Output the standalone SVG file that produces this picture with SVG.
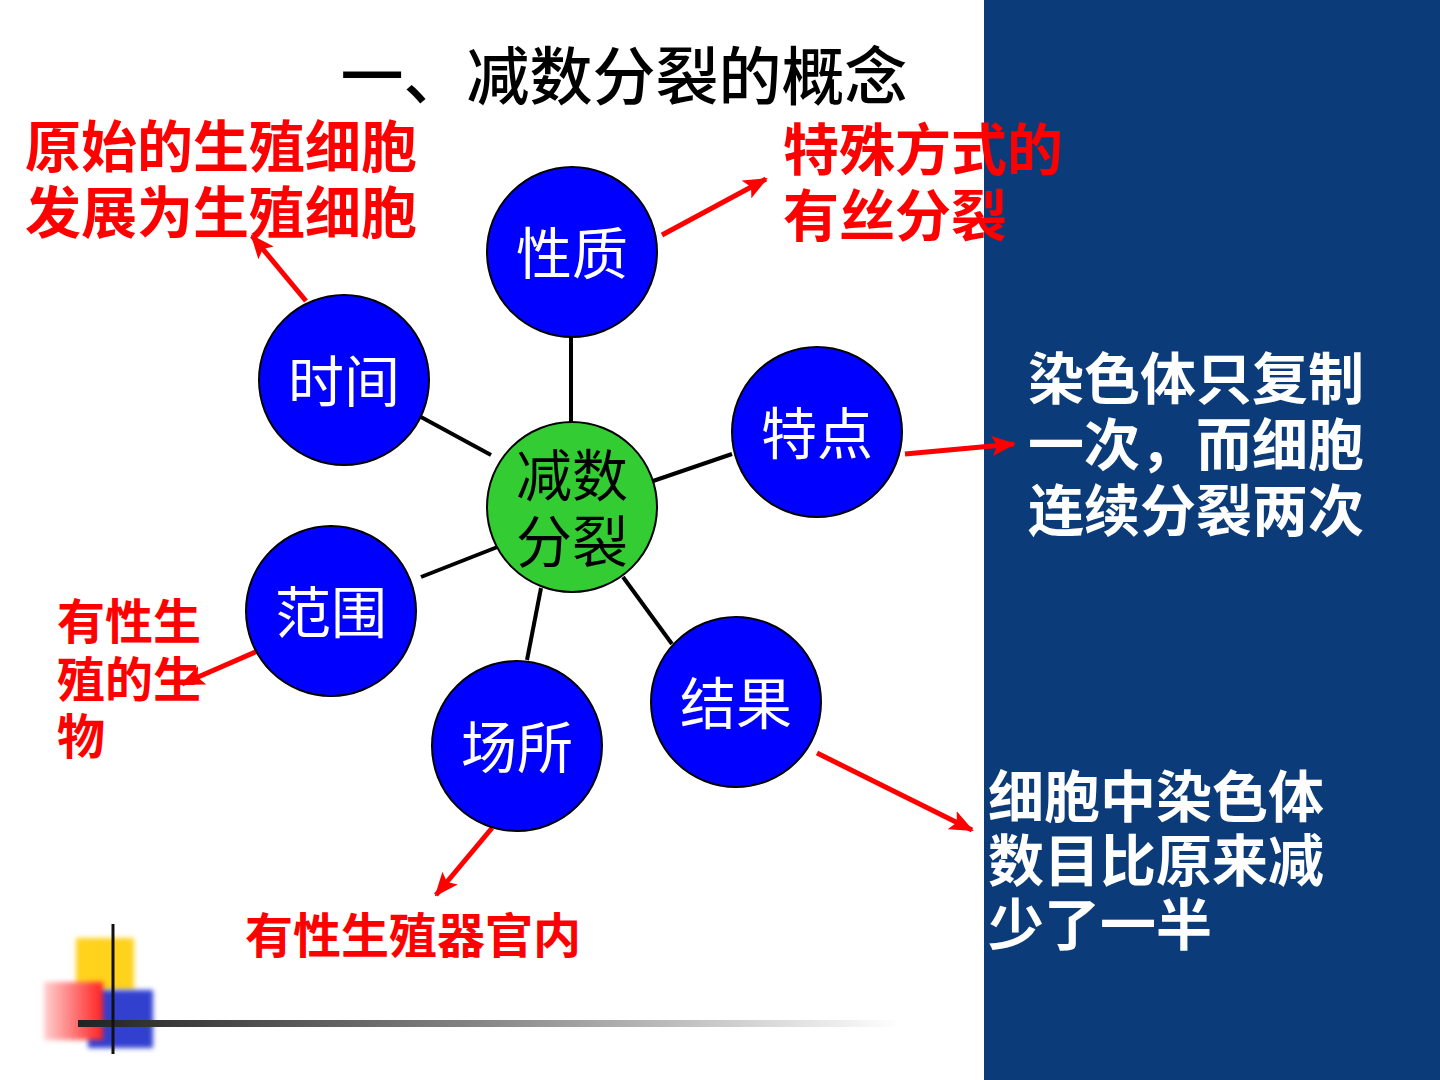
<svg xmlns="http://www.w3.org/2000/svg" width="1440" height="1080" viewBox="0 0 1440 1080">
<style>
.title{font-family:"Noto Sans CJK SC","Noto Sans CJK JP",sans-serif;font-size:63px;fill:#000;text-anchor:middle;font-weight:500}
.red{font-family:"Noto Sans CJK SC",sans-serif;font-weight:bold;fill:#ff0000}
.white{font-family:"Noto Sans CJK SC",sans-serif;font-weight:bold;fill:#ffffff;font-size:56px}
.nodeB{fill:#0000ff;stroke:#000;stroke-width:2}
.nodeG{fill:#33cc33;stroke:#000;stroke-width:2}
.nt{font-family:"Noto Sans CJK SC",sans-serif;font-size:56px;text-anchor:middle;fill:#fff}
.ct{font-family:"Noto Sans CJK SC",sans-serif;font-size:56px;text-anchor:middle;fill:#000}
.blk{stroke:#000;stroke-width:4;fill:none}
.arr{stroke:#ff0000;stroke-width:5;fill:none;marker-end:url(#ah)}
</style>
<defs>
<marker id="ah" markerUnits="userSpaceOnUse" markerWidth="24" markerHeight="22" viewBox="0 0 24 22" refX="22" refY="11" orient="auto">
<path d="M0,1 L24,11 L0,21 L5,11 Z" fill="#ff0000"/>
</marker>
<linearGradient id="hline" x1="0" y1="0" x2="1" y2="0">
<stop offset="0" stop-color="#222"/>
<stop offset="0.5" stop-color="#888"/>
<stop offset="1" stop-color="#fff"/>
</linearGradient>
<linearGradient id="redg" x1="0" y1="0" x2="1" y2="0">
<stop offset="0" stop-color="#ffd0d0"/>
<stop offset="1" stop-color="#ff2020"/>
</linearGradient>
<filter id="soft" x="-20%" y="-20%" width="140%" height="140%">
<feGaussianBlur stdDeviation="2.5"/>
</filter>
</defs>
<rect width="1440" height="1080" fill="#ffffff"/>
<rect x="984" y="0" width="456" height="1080" fill="#0b3b78"/>

<g id="decoration">
<rect x="76" y="938" width="58" height="52" fill="#ffd21a" filter="url(#soft)"/>
<rect x="88" y="990" width="65" height="58" fill="#3040d0" filter="url(#soft)"/>
<rect x="44" y="982" width="59" height="58" fill="url(#redg)" filter="url(#soft)"/>
<rect x="78" y="1020" width="822" height="7" fill="url(#hline)"/>
<line x1="113" y1="924" x2="113" y2="1054" stroke="#111" stroke-width="3"/>
</g>

<text id="title" class="title" x="624" y="99">一、减数分裂的概念</text>

<g id="connectors">
<line class="blk" x1="571" y1="337" x2="571" y2="422"/>
<line class="blk" x1="421" y1="417" x2="491" y2="455"/>
<line class="blk" x1="653" y1="481" x2="732" y2="454"/>
<line class="blk" x1="421" y1="577" x2="500" y2="546"/>
<line class="blk" x1="541" y1="588" x2="527" y2="660"/>
<line class="blk" x1="623" y1="577" x2="672" y2="644"/>
<line class="arr" x1="306" y1="301" x2="252" y2="236"/>
<line class="arr" x1="662" y1="235" x2="766" y2="179"/>
<line class="arr" x1="905" y1="454" x2="1014" y2="444"/>
<line class="arr" x1="260" y1="650" x2="182" y2="684"/>
<line class="arr" x1="492" y1="828" x2="436" y2="895"/>
<line class="arr" x1="817" y1="753" x2="972" y2="830"/>
</g>

<g id="node-xingzhi"><circle class="nodeB" cx="572" cy="252" r="85"/><text class="nt" x="572" y="274">性质</text></g>
<g id="node-shijian"><circle class="nodeB" cx="344" cy="380" r="85"/><text class="nt" x="344" y="402">时间</text></g>
<g id="node-tedian"><circle class="nodeB" cx="817" cy="432" r="85"/><text class="nt" x="817" y="454">特点</text></g>
<g id="node-center"><circle class="nodeG" cx="572" cy="507" r="85"/><text class="ct" x="572" y="496">减数<tspan x="572" dy="66">分裂</tspan></text></g>
<g id="node-fanwei"><circle class="nodeB" cx="331" cy="611" r="85"/><text class="nt" x="331" y="633">范围</text></g>
<g id="node-changsuo"><circle class="nodeB" cx="517" cy="746" r="85"/><text class="nt" x="517" y="768">场所</text></g>
<g id="node-jieguo"><circle class="nodeB" cx="736" cy="702" r="85"/><text class="nt" x="736" y="724">结果</text></g>

<g id="label-shijian">
<text class="red" font-size="56" x="25" y="167">原始的生殖细胞<tspan x="25" dy="66">发展为生殖细胞</tspan></text>
</g>
<g id="label-xingzhi">
<text class="red" font-size="56" x="783" y="170">特殊方式的<tspan x="783" dy="66">有丝分裂</tspan></text>
</g>
<g id="label-tedian">
<text class="white" x="1028" y="399">染色体只复制<tspan x="1028" dy="66">一次，而细胞</tspan><tspan x="1028" dy="66">连续分裂两次</tspan></text>
</g>
<g id="label-jieguo">
<text class="white" x="988" y="817">细胞中染色体<tspan x="988" dy="64">数目比原来减</tspan><tspan x="988" dy="64">少了一半</tspan></text>
</g>
<g id="label-fanwei">
<text class="red" font-size="48" x="57" y="639">有性生<tspan x="57" dy="58">殖的生</tspan><tspan x="57" dy="57">物</tspan></text>
</g>
<g id="label-changsuo">
<text class="red" font-size="48" x="245" y="953">有性生殖器官内</text>
</g>
</svg>
